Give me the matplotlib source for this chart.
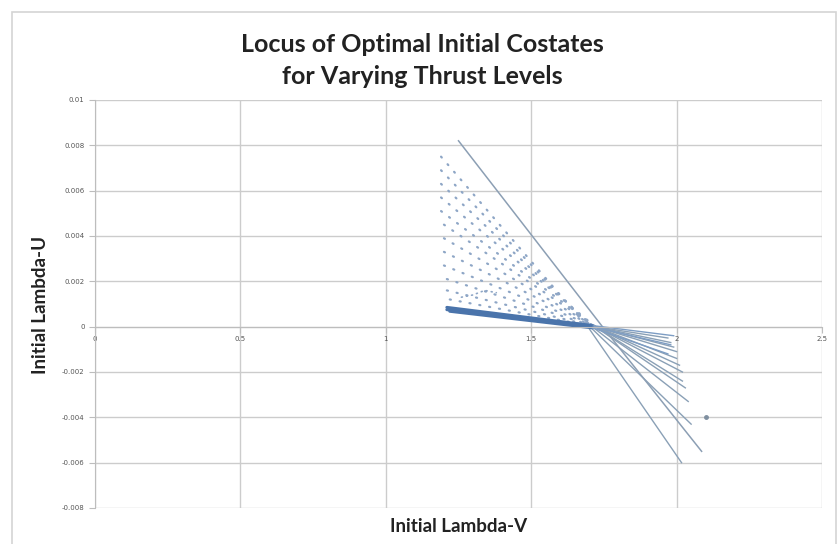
import matplotlib
matplotlib.use("Agg")
import matplotlib.pyplot as plt
from matplotlib.patches import Rectangle

# ---- data ----
# each thrust level: left end, crossing point, right end
left_x  = [1.25, 1.19, 1.19, 1.19, 1.19, 1.19, 1.20, 1.20, 1.20, 1.20, 1.21, 1.21, 1.22]
left_y  = [0.0082, 0.0075, 0.0069, 0.0063, 0.0057, 0.0051, 0.0045, 0.0039, 0.0033, 0.0027, 0.0021, 0.0016, 0.0012]
cross_x = [1.745, 1.70, 1.71, 1.71, 1.72, 1.72, 1.72, 1.72, 1.72, 1.72, 1.72, 1.72, 1.72]
cross_y = [0.0, -0.0001, -0.0001, 0.0, 0.0, 0.0, 0.0, 0.0, 0.0, 0.0, 0.0, 0.0, 0.0]
right_x = [2.086, 2.017, 2.05, 2.04, 2.03, 2.02, 2.02, 2.01, 2.00, 2.00, 1.99, 1.98, 1.97]
right_y = [-0.0055, -0.0060, -0.0043, -0.0033, -0.0027, -0.0024, -0.0020, -0.0017, -0.0014, -0.0011, -0.0009, -0.0007, -0.0005]

# dense band of low-thrust solutions
band_x = [[1.21, 1.71, 1.99], [1.21, 1.71, 1.98], [1.22, 1.71, 1.97]]
band_y = [[0.00085, 0.00005, -0.0004], [0.00075, 0.0, -0.0008], [0.00068, -0.00005, -0.0012]]

# stray points
stray_x = [1.26, 1.30, 1.34, 1.38]
stray_y = [0.0013, 0.0014, 0.0016, 0.0015]
iso_x = [2.10]
iso_y = [-0.0040]

x_ticks = [0, 0.5, 1, 1.5, 2, 2.5]
x_tick_labels = ["0", "0.5", "1", "1.5", "2", "2.5"]
y_ticks = [-0.008, -0.006, -0.004, -0.002, 0, 0.002, 0.004, 0.006, 0.008, 0.01]
y_tick_labels = ["-0.008", "-0.006", "-0.004", "-0.002", "0", "0.002", "0.004", "0.006", "0.008", "0.01"]

# ---- figure ----
W, H = 839, 544
fig = plt.figure(figsize=(W / 100, H / 100), dpi=100)
fig.patch.set_facecolor("white")
fig.patches.append(Rectangle((12 / W, -0.02), (836 - 12) / W, 1 - 12 / H + 0.02,
                             transform=fig.transFigure, fill=False,
                             edgecolor="#d4d4d4", linewidth=1.2))

ax = fig.add_axes([95 / W, 1 - 508 / H, (822 - 95) / W, (508 - 100) / H])
ax.set_xlim(0, 2.5)
ax.set_ylim(-0.008, 0.01)

grid_c = "#cccccc"
ax.set_xticks(x_ticks)
ax.set_xticklabels(x_tick_labels)
ax.set_yticks(y_ticks)
ax.set_yticklabels(y_tick_labels)
ax.grid(True, color=grid_c, linewidth=1.0)
ax.set_axisbelow(True)
for s in ["top", "right"]:
    ax.spines[s].set_visible(False)
ax.spines["bottom"].set_position(("data", 0))
ax.spines["bottom"].set_color("#bdbdbd")
ax.spines["left"].set_color("#bdbdbd")
ax.tick_params(axis="both", which="both", length=4, color="#bdbdbd",
               labelsize=5, labelcolor="#555555", direction="out")
ax.tick_params(axis="x", pad=3)

dot_c = "#8ea6c6"
solid_c = "#8aa0b6"
for i in range(1, len(left_x)):
    ax.plot([left_x[i], cross_x[i]], [left_y[i], cross_y[i]], color=dot_c,
            linewidth=1.6, dashes=(0.5, 4), dash_capstyle="round")
    ax.plot([cross_x[i], right_x[i]], [cross_y[i], right_y[i]], color=solid_c,
            linewidth=1.0)
# top thrust level appears as a solid line over its full length
ax.plot([left_x[0], cross_x[0], right_x[0]], [left_y[0], cross_y[0], right_y[0]],
        color="#8c9fb4", linewidth=1.1)

for bx, by in zip(band_x, band_y):
    ax.plot(bx[:2], by[:2], color="#4a74ab", linewidth=2.2, solid_capstyle="round")
    ax.plot(bx[1:], by[1:], color="#7d9dc4", linewidth=1.0)

ax.plot(stray_x, stray_y, color=dot_c, linewidth=1.2, dashes=(0.6, 2.5),
        dash_capstyle="round")
ax.plot(iso_x, iso_y, linestyle="none", marker="o", markersize=2.5, color="#7f8fa0")

fig.text(0.503, 1 - 45 / H, "Locus of Optimal Initial Costates",
         ha="center", va="center", fontsize=18, fontweight="bold",
         family="Lato", color="#222222")
fig.text(0.503, 1 - 76 / H, "for Varying Thrust Levels",
         ha="center", va="center", fontsize=18, fontweight="bold",
         family="Lato", color="#222222")
fig.text(459 / W, 1 - 527 / H, "Initial Lambda-V", ha="center", va="center",
         fontsize=13.5, fontweight="bold", family="Lato", color="#222222")
fig.text(40 / W, 1 - 305 / H, "Initial Lambda-U", ha="center", va="center",
         rotation=90, fontsize=13.5, fontweight="bold", family="Lato", color="#222222")

fig.savefig("out.png", dpi=100, facecolor="white")
